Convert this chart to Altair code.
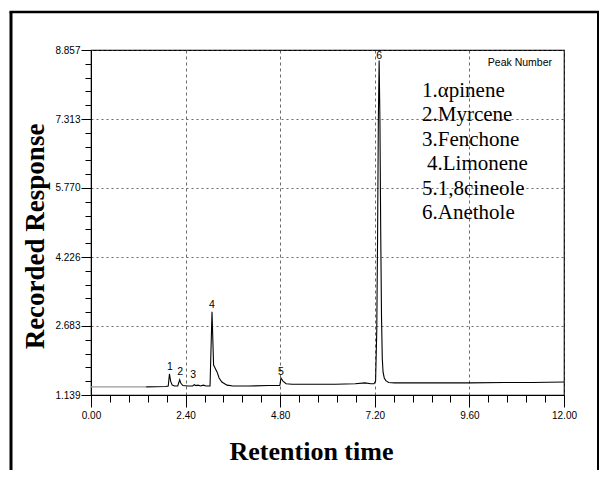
import altair as alt
import pandas as pd

# ---------------- data ----------------
# early baseline (drawn grey in the scan)
BASE_TIME = [0.00, 1.40]
BASE_RESP = [1.32, 1.32]

# chromatogram trace (black)
TRACE_TIME = [1.40, 1.90, 1.96, 1.99, 2.02, 2.06, 2.12, 2.20, 2.25, 2.28, 2.33,
              2.45, 2.58, 2.62, 2.66, 2.72, 2.78, 2.85, 2.92, 3.02, 3.07, 3.11,
              3.15, 3.20, 3.25, 3.32, 3.45, 3.60, 4.00, 4.50, 4.79, 4.82, 4.87,
              4.95, 5.10, 5.60, 6.20, 6.70, 6.95, 7.10, 7.18, 7.22, 7.25, 7.27,
              7.29, 7.31, 7.33, 7.35, 7.37, 7.39, 7.41, 7.44, 7.48, 7.55, 7.70,
              8.50, 9.60, 10.50, 11.20, 12.00]
TRACE_RESP = [1.32, 1.33, 1.34, 1.61, 1.45, 1.36, 1.34, 1.34, 1.48, 1.40, 1.35,
              1.34, 1.34, 1.37, 1.35, 1.36, 1.34, 1.36, 1.34, 1.34, 3.00, 1.81,
              1.74, 1.65, 1.52, 1.43, 1.36, 1.34, 1.34, 1.35, 1.35, 1.52, 1.45,
              1.39, 1.38, 1.38, 1.38, 1.39, 1.41, 1.39, 1.39, 1.45, 2.60, 4.60,
              7.30, 8.62, 7.30, 4.80, 2.90, 1.95, 1.65, 1.52, 1.46, 1.42, 1.41,
              1.41, 1.41, 1.42, 1.42, 1.43]

# peak number labels
PEAK_IDS = ["1", "2", "3", "4", "5", "6"]
PEAK_LABEL_T = [2.00, 2.26, 2.59, 3.07, 4.82, 7.31]
PEAK_LABEL_V = [1.77, 1.65, 1.59, 3.16, 1.65, 8.72]

COMPOUNDS = ["1.\u03b1pinene", "2.Myrcene", "3.Fenchone", "4.Limonene",
             "5.1,8cineole", "6.Anethole"]

X_MAJOR = [0, 2.4, 4.8, 7.2, 9.6, 12]
X_TICKS = [0, 0.48, 0.96, 1.44, 1.92, 2.4, 2.88, 3.36, 3.84, 4.32, 4.8, 5.28,
           5.76, 6.24, 6.72, 7.2, 7.68, 8.16, 8.64, 9.12, 9.6, 10.08, 10.56,
           11.04, 11.52, 12]
Y_MAJOR = [1.139, 2.683, 4.226, 5.770, 7.313, 8.857]
Y_TICKS = [1.139, 1.448, 1.756, 2.065, 2.374, 2.683, 2.992, 3.300, 3.609,
           3.918, 4.226, 4.535, 4.844, 5.152, 5.461, 5.770, 6.079, 6.387,
           6.696, 7.005, 7.313, 7.622, 7.931, 8.239, 8.548, 8.857]

# ---------------- tables ----------------
trace = pd.DataFrame({
    "t": BASE_TIME + TRACE_TIME,
    "v": BASE_RESP + TRACE_RESP,
    "seg": ["grey"] * len(BASE_TIME) + ["black"] * len(TRACE_TIME),
})
labels = pd.DataFrame({"t": PEAK_LABEL_T, "v": PEAK_LABEL_V, "id": PEAK_IDS})

SANS = "Liberation Sans Narrow, Arial Narrow, Liberation Sans, sans-serif"
SERIF = "Liberation Serif, Times New Roman, serif"

x_test = "indexof(%s, datum.value) >= 0" % str(X_MAJOR)
y_test = "indexof(%s, datum.value) >= 0" % str(Y_MAJOR)

x_scale = alt.Scale(domain=[0, 12], nice=False, zero=False)
y_scale = alt.Scale(domain=[1.139, 8.857], nice=False, zero=False)

x_axis = alt.Axis(
    values=X_TICKS,
    labelExpr="%s ? format(datum.value, '.2f') : ''" % x_test,
    tickSize={"condition": {"test": x_test, "value": 12}, "value": 7},
    gridOpacity={"condition": {"test": x_test, "value": 1}, "value": 0},
    grid=True, gridDash=[3, 3], gridColor="#444444", gridWidth=0.8,
    tickColor="black", domainColor="black", tickWidth=1,
    labelFont=SANS, labelFontSize=10, labelColor="black", labelPadding=3,
    labelFlush=False, labelOverlap=False,
    title="Retention time", titleFont=SERIF, titleFontSize=26,
    titleFontWeight="bold", titleColor="black",
    titleX=220, titleY=64, titleAlign="center", titleBaseline="alphabetic",
)
y_axis = alt.Axis(
    values=Y_TICKS,
    labelExpr="%s ? format(datum.value, '.3f') : ''" % y_test,
    tickSize={"condition": {"test": y_test, "value": 10}, "value": 6},
    gridOpacity={"condition": {"test": y_test, "value": 1}, "value": 0},
    grid=True, gridDash=[2, 3], gridColor="#444444", gridWidth=0.8,
    tickColor="black", domainColor="black", tickWidth=1,
    labelFont=SANS, labelFontSize=10, labelColor="black", labelPadding=1,
    labelFlush=False, labelOverlap=False,
    title="Recorded Response", titleFont=SERIF, titleFontSize=27,
    titleFontWeight="bold", titleColor="black", titleAngle=270,
    titleX=-48, titleY=186, titleAlign="center", titleBaseline="alphabetic",
)

line = alt.Chart(trace).mark_line(strokeWidth=1.1).encode(
    x=alt.X("t:Q", scale=x_scale, axis=x_axis),
    y=alt.Y("v:Q", scale=y_scale, axis=y_axis),
    color=alt.Color("seg:N", scale=alt.Scale(domain=["grey", "black"],
                                             range=["#9a9a9a", "black"]),
                    legend=None),
    detail="seg:N",
)

peak_text = alt.Chart(labels).mark_text(
    font=SANS, fontSize=10.5, baseline="middle", align="center", color="black"
).encode(
    x=alt.X("t:Q", scale=x_scale, axis=x_axis),
    y=alt.Y("v:Q", scale=y_scale, axis=y_axis),
    text="id:N",
)

one = alt.Data(values=[{}])
frame_left = alt.Chart(one).mark_rule(color="black", strokeWidth=3).encode(
    x=alt.value(-80), y=alt.value(-38), y2=alt.value(420))
frame_top = alt.Chart(one).mark_rule(color="black", strokeWidth=2.5).encode(
    x=alt.value(-81.5), x2=alt.value(508), y=alt.value(-38))
frame_right = alt.Chart(one).mark_rule(color="black", strokeWidth=2).encode(
    x=alt.value(507), y=alt.value(-38), y2=alt.value(420))

peak_head = alt.Chart(one).mark_text(
    font=SANS, fontSize=10.5, align="right", baseline="alphabetic", color="black"
).encode(x=alt.value(461), y=alt.value(16), text=alt.value("Peak Number"))

LINE_H = 24.4


def legend_text(lines, first_row, dx=0):
    return alt.Chart(one).mark_text(
        font=SERIF, fontSize=21, align="left", baseline="alphabetic",
        lineBreak="\n", lineHeight=LINE_H, color="black", dx=dx
    ).encode(x=alt.value(331), y=alt.value(47 + first_row * LINE_H),
             text=alt.value("\n".join(lines)))


legend_a = legend_text(COMPOUNDS[0:3], 0)
legend_b = legend_text(COMPOUNDS[3:4], 3, dx=5)
legend_c = legend_text(COMPOUNDS[4:6], 4)

chart = alt.layer(
    line, peak_text, frame_left, frame_top, frame_right, peak_head,
    legend_a, legend_b, legend_c
).properties(
    width=473, height=345,
    padding={"left": 83, "top": 42, "right": 36, "bottom": 75},
    autosize=alt.AutoSizeParams(type="none"),
    background="white",
).configure_view(stroke="black", strokeWidth=1.2)

chart.save("out.html", embed_options={"renderer": "svg", "actions": False})
